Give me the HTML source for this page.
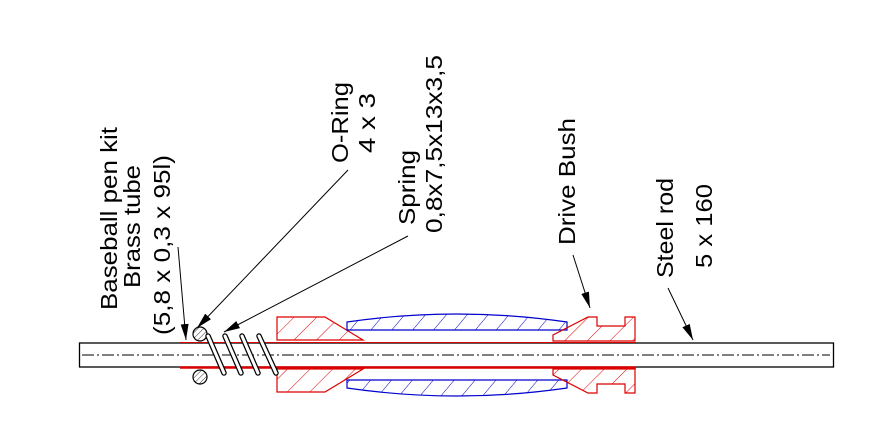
<!DOCTYPE html>
<html><head><meta charset="utf-8"><style>html,body{margin:0;padding:0;background:#fff}svg{display:block}</style></head>
<body>
<svg width="877" height="440" viewBox="0 0 877 440" xmlns="http://www.w3.org/2000/svg" font-family="Liberation Sans, Arial, sans-serif" font-size="23">
<defs>
<pattern id="hr" width="16" height="16" patternUnits="userSpaceOnUse" patternTransform="rotate(45)"><line x1="0" y1="0" x2="0" y2="16" stroke="#d00" stroke-width="1"/></pattern>
<pattern id="hb" width="16" height="16" patternUnits="userSpaceOnUse" patternTransform="rotate(40)"><line x1="0" y1="0" x2="0" y2="16" stroke="#00c" stroke-width="1"/></pattern>
<pattern id="hk" width="4" height="4" patternUnits="userSpaceOnUse" patternTransform="rotate(45)"><line x1="0" y1="0" x2="0" y2="4" stroke="#000" stroke-width="0.8"/></pattern>
<marker id="ar" viewBox="0 0 16 8" refX="16" refY="4" markerWidth="16" markerHeight="8" markerUnits="userSpaceOnUse" orient="auto"><path d="M0,0 L16,4 L0,8 z" fill="#000"/></marker>
</defs>
<rect x="79.5" y="343" width="754" height="24" fill="none" stroke="#000" stroke-width="1.3"/>
<line x1="82" y1="355" x2="830" y2="355" stroke="#000" stroke-width="1" stroke-dasharray="12,3,2,3"/>
<line x1="180" y1="342.5" x2="636" y2="342.5" stroke="#d00" stroke-width="1"/>
<line x1="180" y1="367.5" x2="636" y2="367.5" stroke="#d00" stroke-width="2.5"/>
<polygon points="277,317 325,317 363,340 277,340" fill="url(#hr)" stroke="#d00" stroke-width="1.2"/>
<polygon points="277,369 363,369 325,392 277,392" fill="url(#hr)" stroke="#d00" stroke-width="1.2"/>
<path d="M347,322 Q457,306 567,322 L567,330 L347,330 Z" fill="url(#hb)" stroke="#00c" stroke-width="1.2"/>
<path d="M347,388 Q457,404 567,388 L567,380 L347,380 Z" fill="url(#hb)" stroke="#00c" stroke-width="1.2"/>
<polygon points="553,341 553,335 588,317 597,317 597,326 625,326 625,317 635,317 635,341" fill="url(#hr)" stroke="#d00" stroke-width="1.2"/>
<polygon points="553,369 553,375 588,393 597,393 597,384 625,384 625,393 635,393 635,369" fill="url(#hr)" stroke="#d00" stroke-width="1.2"/>
<circle cx="200" cy="334" r="7" fill="url(#hk)" stroke="#000" stroke-width="1.2"/>
<circle cx="200" cy="377" r="7" fill="url(#hk)" stroke="#000" stroke-width="1.2"/>
<g stroke-linecap="round">
<g stroke="#000" stroke-width="5.5">
<line x1="208" y1="336" x2="224" y2="373"/><line x1="225" y1="336" x2="241" y2="373"/><line x1="242" y1="336" x2="258" y2="373"/><line x1="259" y1="336" x2="276" y2="373"/>
</g>
<g stroke="#fff" stroke-width="3">
<line x1="208" y1="336" x2="224" y2="373"/><line x1="225" y1="336" x2="241" y2="373"/><line x1="242" y1="336" x2="258" y2="373"/><line x1="259" y1="336" x2="276" y2="373"/>
</g>
</g>
<g stroke="#000" stroke-width="1" marker-end="url(#ar)">
<line x1="178" y1="247" x2="186" y2="340"/>
<line x1="348" y1="170" x2="197" y2="328"/>
<line x1="408" y1="236" x2="224" y2="332"/>
<line x1="573" y1="255" x2="590" y2="308"/>
<line x1="668" y1="288" x2="693" y2="340"/>
</g>
<g fill="#000">
<text transform="translate(117,310) rotate(-90)" textLength="183" lengthAdjust="spacingAndGlyphs">Baseball pen kit</text>
<text transform="translate(140,288) rotate(-90)" textLength="123" lengthAdjust="spacingAndGlyphs">Brass tube</text>
<text transform="translate(170,335) rotate(-90)" textLength="180" lengthAdjust="spacingAndGlyphs">(5,8 x 0,3 x 95l)</text>
<text transform="translate(348,163) rotate(-90)" textLength="81" lengthAdjust="spacingAndGlyphs">O-Ring</text>
<text transform="translate(375,153) rotate(-90)" textLength="60" lengthAdjust="spacingAndGlyphs">4 x 3</text>
<text transform="translate(415,225) rotate(-90)" textLength="75" lengthAdjust="spacingAndGlyphs">Spring</text>
<text transform="translate(442,233) rotate(-90)" textLength="178" lengthAdjust="spacingAndGlyphs">0,8x7,5x13x3,5</text>
<text transform="translate(575,245) rotate(-90)" textLength="127" lengthAdjust="spacingAndGlyphs">Drive Bush</text>
<text transform="translate(673,278) rotate(-90)" textLength="100" lengthAdjust="spacingAndGlyphs">Steel rod</text>
<text transform="translate(712,268) rotate(-90)" textLength="84" lengthAdjust="spacingAndGlyphs">5 x 160</text>
</g>
</svg>
</body></html>
